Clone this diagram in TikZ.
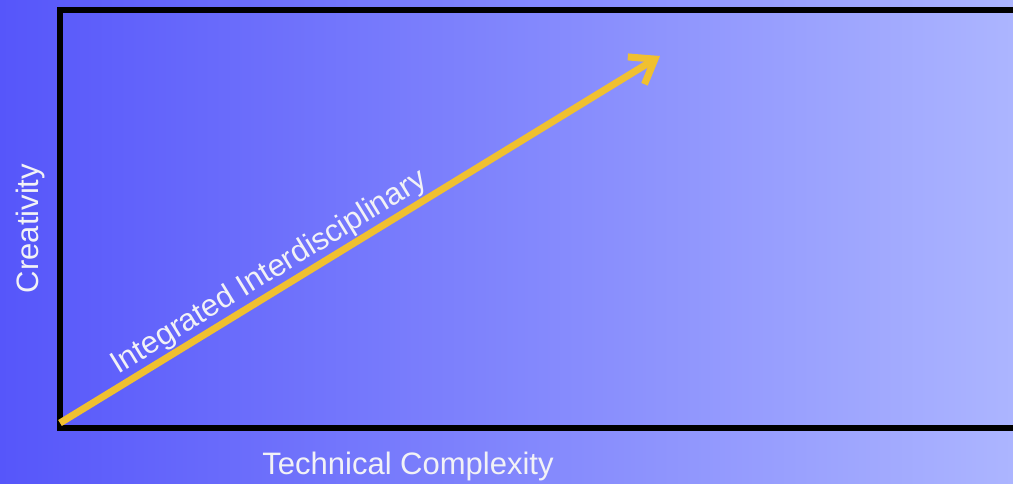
\documentclass[tikz,border=0pt]{standalone}
\usepackage{fontspec}
\setmainfont{Liberation Sans}
\usetikzlibrary{arrows.meta}

\definecolor{bgleft}{RGB}{86,86,250}
\definecolor{bgright}{RGB}{172,181,255}
\definecolor{arrowyellow}{RGB}{240,192,48}
\definecolor{labelwhite}{RGB}{242,242,246}

\tikzset{
    axisline/.style={draw=black, line width=6pt, line join=miter},
    growarrow/.style={draw=arrowyellow, line width=7pt,
        -{Straight Barb[length=22pt, width=32pt]}},
    axislabel/.style={text=labelwhite, inner sep=0pt,
        font=\fontsize{31}{36}\selectfont}
}

\begin{document}
\begin{tikzpicture}[x=1pt, y=1pt]
\shade[left color=bgleft, right color=bgright] (0,0) rectangle (1013,483);
\useasboundingbox (0,0) rectangle (1013,483);

% axes
\coordinate (topend) at (1013,473);
\coordinate (origin) at (59.5,55);
\coordinate (xend) at (1013,55);
\draw[axisline] (topend) -- (origin |- topend) -- (origin) -- (xend);

% trend arrow
\coordinate (arrowstart) at (60,60);
\coordinate (arrowtip) at (660,427);
\draw[growarrow] (arrowstart) -- node[pos=0.365, sloped, above, axislabel,
    inner sep=1pt] (trend) {Integrated Interdisciplinary} (arrowtip);

% axis titles
\node[axislabel, anchor=base, rotate=90] (ylabel) at (38,254.5) {Creativity};
\node[axislabel, anchor=base] (xlabel) at (408,9) {Technical Complexity};
\end{tikzpicture}
\end{document}
